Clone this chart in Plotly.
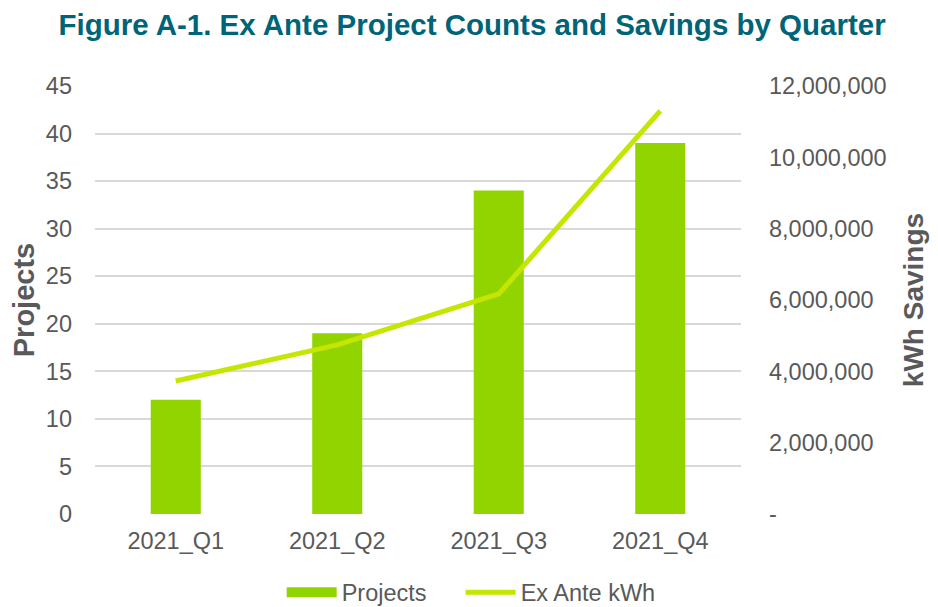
import plotly.graph_objects as go

quarters = ["2021_Q1", "2021_Q2", "2021_Q3", "2021_Q4"]
projects = [12, 19, 34, 39]
ex_ante_kwh = [3730000, 4740000, 6170000, 11300000]

kwh_ticks = [0, 2000000, 4000000, 6000000, 8000000, 10000000, 12000000]
kwh_labels = ["-"] + [f"{v:,}" for v in kwh_ticks[1:]]

grey = "#595959"
bar_green = "#92D400"
line_green = "#C4E600"

fig = go.Figure()
fig.add_trace(go.Bar(
    x=quarters, y=projects, name="Projects", showlegend=False,
    marker=dict(color=bar_green, line=dict(width=0)),
    width=0.31,
))
# legend-only entry so the swatch is a wide block like the original
fig.add_trace(go.Scatter(
    x=[None], y=[None], name="Projects", mode="lines",
    line=dict(color=bar_green, width=12), legend="legend",
))
fig.add_trace(go.Scatter(
    x=quarters, y=ex_ante_kwh, name="Ex Ante kWh", yaxis="y2",
    mode="lines", line=dict(color=line_green, width=5), legend="legend2",
))

legend_style = dict(
    orientation="h", y=-0.132, yanchor="top", xanchor="left",
    font=dict(size=23.5, color=grey), itemwidth=50, bgcolor="rgba(0,0,0,0)",
)

# page has an 8px body margin, so margins are shifted to compensate
fig.update_layout(
    template="none",
    width=930, height=599,
    margin=dict(l=87, r=197, t=78, b=93, autoexpand=False),
    paper_bgcolor="white", plot_bgcolor="white",
    font=dict(family="Arial, Liberation Sans, sans-serif", size=23.5, color=grey),
    title=dict(
        text="<b>Figure A-1. Ex Ante Project Counts and Savings by Quarter</b>",
        x=0.499, xanchor="center", y=0.973, yanchor="middle",
        font=dict(family="Arial, Liberation Sans, sans-serif", size=29.5, color="#006478"),
    ),
    xaxis=dict(showline=False, showgrid=False, zeroline=False, ticks="", automargin=False,
               tickfont=dict(size=23.5, color=grey), ticklabelstandoff=10),
    yaxis=dict(
        range=[0, 45], dtick=5, showgrid=True, gridcolor="#D9D9D9", gridwidth=1.5,
        zeroline=False, ticks="", ticklabelstandoff=22, automargin=False,
        tickfont=dict(size=23.5, color=grey),
        title=dict(text="<b>Projects</b>", font=dict(size=29, color=grey), standoff=8),
    ),
    yaxis2=dict(
        overlaying="y", side="right", range=[0, 12000000],
        tickvals=kwh_ticks, ticktext=kwh_labels, showgrid=False, zeroline=False,
        ticks="", ticklabelstandoff=27, automargin=False,
        tickfont=dict(size=23.5, color=grey),
        title=dict(text="<b>kWh Savings</b>", font=dict(size=28, color=grey), standoff=17),
    ),
    legend=dict(x=0.289, **legend_style),
    legend2=dict(x=0.566, **legend_style),
    bargap=0.5,
)

fig.write_html("out.html")
